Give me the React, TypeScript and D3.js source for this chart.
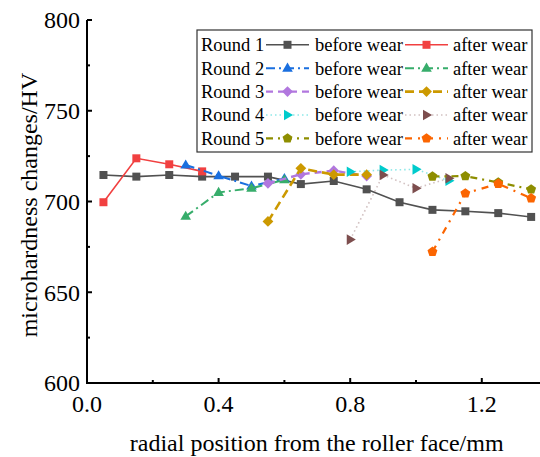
import React from "react";
import * as d3 from "d3";

const X_MAJOR = [0, 0.4, 0.8, 1.2];
const X_MINOR = [0.2, 0.6, 1.0];
const Y_MAJOR = [600, 650, 700, 750, 800];
const Y_MINOR = [625, 675, 725, 775];

const xR1 = [0.05, 0.15, 0.25, 0.35, 0.45, 0.55, 0.65, 0.75, 0.85, 0.95, 1.05, 1.15, 1.25, 1.35];
const r1Before = [714.6, 713.7, 714.6, 713.7, 713.7, 713.7, 709.6, 711.3, 706.7, 699.6, 695.4, 694.6, 693.6, 691.5];
const xR1After = [0.05, 0.15, 0.25, 0.35];
const r1After = [699.6, 723.8, 720.5, 716.6];

const xR2 = [0.3, 0.4, 0.5, 0.6];
const r2Before = [720.1, 714.2, 708.5, 712.6];
const r2After = [691.8, 705.0, 707.3, 711.9];

const xR3 = [0.55, 0.65, 0.75, 0.85];
const r3Before = [710.0, 715.0, 717.0, 714.0];
const r3After = [689.0, 718.3, 714.8, 714.8];

const xR4 = [0.8, 0.9, 1.0, 1.1];
const r4Before = [716.4, 717.3, 717.7, 711.5];
const r4After = [679.0, 714.6, 707.3, 712.8];

const xR5 = [1.05, 1.15, 1.25, 1.35];
const r5Before = [713.8, 714.0, 710.5, 706.7];
const r5After = [672.3, 704.5, 709.8, 701.8];

const ROUND_LABELS = ["Round 1", "Round 2", "Round 3", "Round 4", "Round 5"];
const BEFORE_LABEL = "before wear";
const AFTER_LABEL = "after wear";
const X_TITLE = "radial position from the roller face/mm";
const Y_TITLE = "microhardness changes/HV";

type Series = {
  xs: number[];
  ys: number[];
  color: string;
  marker: string;
  dash: string | null;
  width: number;
  opacity?: number;
};

const SERIES: Series[] = [
  { xs: xR1, ys: r1Before, color: "#515151", marker: "square", dash: null, width: 1.6 },
  { xs: xR1After, ys: r1After, color: "#F14040", marker: "square", dash: null, width: 1.6 },
  { xs: xR2, ys: r2Before, color: "#1A6FDF", marker: "triangle", dash: "9,4,2,4", width: 2 },
  { xs: xR2, ys: r2After, color: "#37AD6B", marker: "triangle", dash: "9,4,2,4", width: 2 },
  { xs: xR3, ys: r3Before, color: "#B177DE", marker: "diamond", dash: "7,5", width: 2.4 },
  { xs: xR3, ys: r3After, color: "#CC9900", marker: "diamond", dash: "9,5", width: 2.6 },
  { xs: xR4, ys: r4Before, color: "#00CBCC", marker: "right", dash: "1.5,3", width: 1.6, opacity: 0.45 },
  { xs: xR4, ys: r4After, color: "#7D4E4E", marker: "right", dash: "1.5,3", width: 1.6, opacity: 0.35 },
  { xs: xR5, ys: r5Before, color: "#8E8E00", marker: "pentagon", dash: "7,5,2,5", width: 2.2 },
  { xs: xR5, ys: r5After, color: "#FB6501", marker: "pentagon", dash: "7,6,2,6", width: 2.2 },
];

function markerPath(type: string): string {
  const p = d3.path();
  if (type === "square") {
    const h = 4;
    p.rect(-h, -h, 2 * h, 2 * h);
  } else if (type === "triangle") {
    const r = 5.6;
    p.moveTo(0, -r);
    p.lineTo(r * 0.95, r * 0.62);
    p.lineTo(-r * 0.95, r * 0.62);
    p.closePath();
  } else if (type === "right") {
    const r = 5.6;
    p.moveTo(r, 0);
    p.lineTo(-r * 0.62, r * 0.95);
    p.lineTo(-r * 0.62, -r * 0.95);
    p.closePath();
  } else if (type === "diamond") {
    const r = 5.4;
    p.moveTo(0, -r);
    p.lineTo(r, 0);
    p.lineTo(0, r);
    p.lineTo(-r, 0);
    p.closePath();
  } else if (type === "pentagon") {
    const r = 5.2;
    for (let i = 0; i < 5; i++) {
      const a = -Math.PI / 2 + (i * 2 * Math.PI) / 5;
      const px = r * Math.cos(a);
      const py = r * Math.sin(a);
      if (i === 0) p.moveTo(px, py);
      else p.lineTo(px, py);
    }
    p.closePath();
  }
  return p.toString();
}

const FONT = "'Liberation Serif', 'Times New Roman', serif";

export default function App() {
  const W = 540;
  const H = 457;
  const x = d3.scaleLinear().domain([0, 1.4]).range([87, 547.6]);
  const y = d3.scaleLinear().domain([600, 800]).range([383, 20]);
  const line = d3
    .line<[number, number]>()
    .x((d) => x(d[0]))
    .y((d) => y(d[1]));

  const legendX0 = 197;
  const legendY0 = 30;
  const legendW = 335;
  const legendH = 122;
  const rowY = (i: number) => 44.8 + i * 23.4;

  return (
    <svg
      width={W}
      height={H}
      style={{ position: "absolute", left: 0, top: 0, display: "block", background: "#fff" }}
      fontFamily={FONT}
    >
      <rect x={0} y={0} width={W} height={H} fill="#fff" />
      {/* series */}
      {SERIES.map((s, i) => {
        const pts: [number, number][] = s.xs.map((xv, j) => [xv, s.ys[j]]);
        return (
          <g key={i}>
            <path
              d={line(pts) || ""}
              fill="none"
              stroke={s.color}
              strokeWidth={s.width}
              strokeDasharray={s.dash || undefined}
              strokeOpacity={s.opacity ?? 1}
            />
            {pts.map((d, j) => (
              <path
                key={j}
                d={markerPath(s.marker)}
                transform={`translate(${x(d[0])},${y(d[1])})`}
                fill={s.color}
              />
            ))}
          </g>
        );
      })}

      {/* axes */}
      <line x1={x(0)} x2={W} y1={y(600)} y2={y(600)} stroke="#000" strokeWidth={2} />
      <line x1={x(0)} x2={x(0)} y1={y(800)} y2={y(600) + 1} stroke="#000" strokeWidth={2} />
      {Y_MAJOR.map((v) => (
        <g key={"ym" + v}>
          <line x1={x(0)} x2={x(0) + 5} y1={y(v)} y2={y(v)} stroke="#000" strokeWidth={2} />
          <text x={80} y={y(v)} dy="0.35em" textAnchor="end" fontSize={24}>
            {v}
          </text>
        </g>
      ))}
      {Y_MINOR.map((v) => (
        <line key={"yn" + v} x1={x(0)} x2={x(0) + 3} y1={y(v)} y2={y(v)} stroke="#000" strokeWidth={2} />
      ))}
      {X_MAJOR.map((v) => (
        <g key={"xm" + v}>
          <line x1={x(v)} x2={x(v)} y1={y(600)} y2={y(600) - 5} stroke="#000" strokeWidth={2} />
          <text x={x(v)} y={412} textAnchor="middle" fontSize={24}>
            {v.toFixed(1)}
          </text>
        </g>
      ))}
      {X_MINOR.map((v) => (
        <line key={"xn" + v} x1={x(v)} x2={x(v)} y1={y(600)} y2={y(600) - 3} stroke="#000" strokeWidth={2} />
      ))}
      <text x={316.7} y={451} textAnchor="middle" fontSize={24}>
        {X_TITLE}
      </text>
      <text transform={`translate(37,205) rotate(-90)`} textAnchor="middle" fontSize={24}>
        {Y_TITLE}
      </text>

      {/* legend */}
      <rect
        x={legendX0}
        y={legendY0}
        width={legendW}
        height={legendH}
        fill="#fff"
        stroke="#333"
        strokeWidth={1.2}
      />
      {ROUND_LABELS.map((lab, i) => {
        const before = SERIES[i * 2];
        const after = SERIES[i * 2 + 1];
        const ry = rowY(i);
        return (
          <g key={lab}>
            <text x={201} y={ry} dy="0.35em" fontSize={18.5}>
              {lab}
            </text>
            <line
              x1={266}
              x2={309}
              y1={ry}
              y2={ry}
              stroke={before.color}
              strokeWidth={before.width}
              strokeDasharray={before.dash || undefined}
              strokeOpacity={before.opacity ?? 1}
            />
            <path d={markerPath(before.marker)} transform={`translate(287.5,${ry})`} fill={before.color} />
            <text x={315} y={ry} dy="0.35em" fontSize={18.5}>
              {BEFORE_LABEL}
            </text>
            <line
              x1={405}
              x2={448}
              y1={ry}
              y2={ry}
              stroke={after.color}
              strokeWidth={after.width}
              strokeDasharray={after.dash || undefined}
              strokeOpacity={after.opacity ?? 1}
            />
            <path d={markerPath(after.marker)} transform={`translate(426.5,${ry})`} fill={after.color} />
            <text x={453} y={ry} dy="0.35em" fontSize={18.5}>
              {AFTER_LABEL}
            </text>
          </g>
        );
      })}
    </svg>
  );
}
